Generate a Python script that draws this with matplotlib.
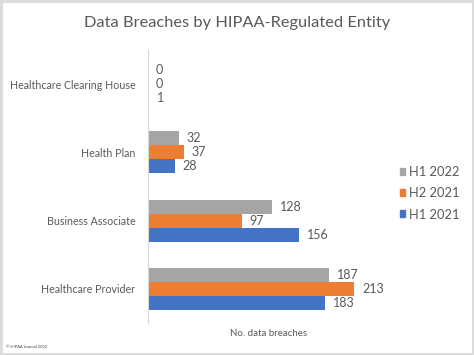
import numpy as np
import matplotlib
matplotlib.use("Agg")
import matplotlib.pyplot as plt
from matplotlib.patches import Patch

# Data
entities = ["Healthcare Clearing House", "Health Plan", "Business Associate", "Healthcare Provider"]
series = ["H1 2022", "H2 2021", "H1 2021"]
h1_2022 = [0, 32, 128, 187]
h2_2021 = [0, 37, 97, 213]
h1_2021 = [1, 28, 156, 183]
colors = ["#a5a5a5", "#ed7d31", "#4472c4"]

txt = "#595959"
plt.rcParams['font.family'] = ['Lato', 'DejaVu Sans']

fig = plt.figure(figsize=(4.74, 3.55), dpi=100)
fig.patch.set_edgecolor("#dcdcdc")
fig.patch.set_linewidth(2.5)
ax = fig.add_axes([0.312, 0.090, 0.511, 0.769])

y = np.arange(len(entities))
h = 0.205
for vals, off, c in zip([h1_2022, h2_2021, h1_2021], [-h, 0, h], colors):
    bars = ax.barh(y + off, vals, height=h, color=c)
    for b, v in zip(bars, vals):
        ax.text(b.get_width() + 8, b.get_y() + h / 2, str(v), va="center", ha="left",
                fontsize=9, color=txt)

ax.set_xlim(0, 250)
ax.set_ylim(3.5, -0.5)
ax.set_yticks(y)
ax.set_yticklabels(entities, fontsize=7.7, color=txt)
ax.tick_params(axis="y", length=0, pad=9)
ax.set_xticks([])
for s in ["top", "right", "bottom"]:
    ax.spines[s].set_visible(False)
ax.spines["left"].set_color("#d9d9d9")
ax.set_xlabel("No. data breaches", fontsize=7, color=txt, labelpad=4)

fig.text(0.5, 0.935, "Data Breaches by HIPAA-Regulated Entity", ha="center", va="center",
         fontsize=11.8, color=txt)

handles = [Patch(color=c) for c in colors]
fig.legend(handles, series, loc="center left", bbox_to_anchor=(0.843, 0.455), frameon=False,
           fontsize=9.3, labelcolor=txt, handlelength=0.45, handleheight=0.45,
           handletextpad=0.25, labelspacing=0.7, borderpad=0, borderaxespad=0)

fig.text(0.012, 0.02, "© HIPAA Journal 2022", fontsize=3, color="#404040")

fig.savefig("out.png", dpi=100)
